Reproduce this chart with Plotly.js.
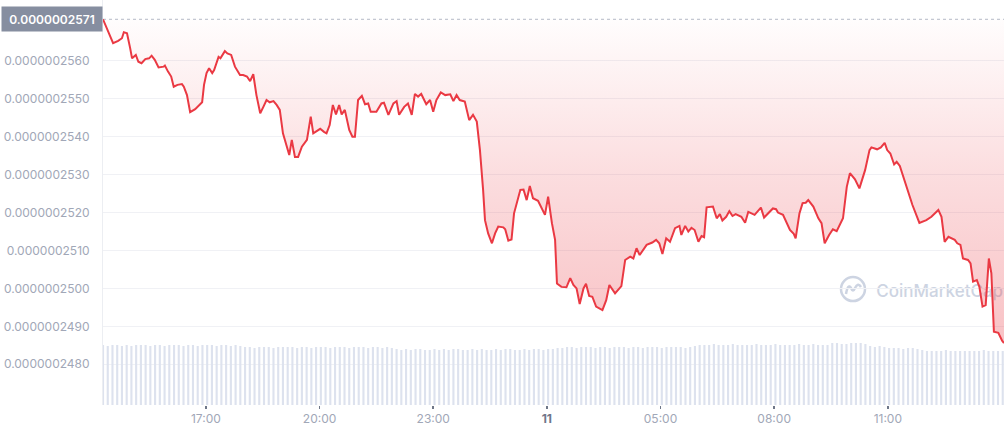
<!DOCTYPE html>
<html>
<head>
<meta charset="utf-8">
<script src="https://cdn.plot.ly/plotly-3.0.1.min.js"></script>
<style>html,body{margin:0;padding:0;background:#fff}#chart{width:1004px;height:431px}</style>
</head>
<body>
<div id="chart"></div>
<script>
// ---- data (price in units of 1e-10) ----
const START_UTC = Date.UTC(2022, 0, 10, 14, 17); // left edge of the chart
const END_MIN = 1427;                            // minutes shown
const PRICE_UNIT = 1e-10;
const openPrice = 2571;

// minutes after start
const priceMinutes = [0,8,16,24,30,33,38,43,46,52,56,61,67,73,77,82,88,96,98,103,108,112,118,125,128,133,138,146,153,157,160,164,168,173,176,183,186,193,197,203,209,217,222,228,233,238,243,249,254,259,264,270,275,280,285,290,295,299,304,309,315,323,329,333,344,350,354,359,364,369,374,378,383,390,395,399,404,410,415,420,424,433,441,445,452,460,465,469,477,483,489,494,499,504,512,518,523,528,535,542,550,555,560,565,573,580,586,592,597,602,605,610,616,621,626,634,637,642,647,651,658,661,666,671,676,681,689,695,700,705,711,716,719,726,734,740,745,750,755,761,765,770,775,781,791,797,802,811,821,827,835,840,845,850,861,870,876,881,886,892,898,906,913,916,922,927,932,937,943,948,952,956,966,972,977,981,987,992,997,1002,1011,1017,1022,1032,1042,1047,1054,1061,1066,1069,1077,1088,1094,1097,1103,1108,1113,1117,1125,1133,1138,1143,1150,1156,1162,1172,1178,1183,1191,1198,1207,1214,1217,1226,1232,1238,1242,1247,1253,1257,1262,1273,1282,1293,1299,1304,1312,1323,1328,1333,1339,1349,1353,1358,1362,1370,1374,1378,1384,1388,1393,1398,1403,1407,1411,1418,1424,1427];

const priceValues = [2571,2567.7,2564.7,2565.3,2566.0,2567.6,2567.3,2563.4,2560.7,2561.6,2559.8,2559.4,2560.5,2560.7,2561.4,2560.3,2558.3,2558.5,2558.8,2557.2,2555.9,2553.2,2553.7,2553.9,2553.2,2551.0,2546.5,2547.3,2548.4,2549.1,2553.7,2556.8,2558.1,2556.8,2557.6,2561.1,2560.7,2562.6,2562.0,2561.6,2558.5,2556.3,2556.3,2555.9,2554.7,2556.5,2551.0,2546.2,2547.9,2549.7,2549.1,2549.4,2548.4,2547.1,2540.9,2537.8,2535.2,2539.2,2534.7,2534.7,2537.4,2539.2,2545.3,2540.9,2542.1,2541.3,2540.9,2543.1,2548.4,2545.9,2548.4,2545.9,2547.1,2541.8,2540.0,2540.0,2549.7,2550.8,2548.6,2548.8,2546.6,2546.6,2548.8,2549.0,2545.8,2548.8,2549.4,2545.8,2547.9,2548.8,2545.8,2551.3,2550.6,2551.3,2548.6,2549.7,2546.6,2549.7,2551.7,2551.0,2551.2,2549.4,2551.0,2549.7,2549.3,2544.4,2545.8,2544.0,2536.5,2526.0,2518.0,2514.5,2511.9,2514.5,2516.3,2516.1,2515.6,2512.6,2512.9,2519.8,2523.8,2526.0,2526.1,2523.3,2527.0,2523.8,2523.1,2521.1,2519.4,2524.2,2517.2,2512.8,2501.3,2500.4,2500.3,2502.7,2500.9,2500.0,2495.9,2500.0,2501.2,2498.0,2497.8,2495.2,2494.3,2496.9,2500.9,2498.7,2500.6,2507.5,2508.4,2507.9,2510.6,2508.8,2511.5,2512.1,2512.8,2511.9,2509.1,2513.2,2512.3,2515.9,2516.5,2514.1,2516.5,2515.0,2516.0,2515.4,2512.3,2513.8,2513.5,2521.4,2521.6,2518.5,2519.6,2517.9,2518.9,2520.4,2519.1,2519.6,2518.9,2517.3,2520.2,2519.4,2521.3,2518.7,2520.0,2521.1,2520.9,2520.0,2519.4,2515.4,2514.4,2513.2,2519.8,2522.5,2522.6,2523.3,2521.6,2518.5,2517.2,2511.9,2514.1,2515.6,2515.1,2518.5,2526.8,2530.4,2528.8,2526.4,2531.2,2536.5,2537.2,2536.7,2537.2,2538.4,2536.5,2535.6,2532.7,2533.4,2532.3,2526.8,2522.0,2517.3,2517.6,2518.0,2518.9,2520.7,2518.9,2512.3,2513.6,2512.8,2511.9,2511.5,2507.9,2507.5,2506.6,2501.8,2502.2,2500.4,2495.2,2495.6,2507.9,2504.0,2488.6,2488.3,2486.2,2485.6];

// volume bars: one bar every 7.5 minutes, relative heights
const VOLUME_STEP_MIN = 7.5;
const volumeValues = [
60,59,60,60,59,60,59,60,60,60,59,60,60,59,60,60,60,59,60,60,59,60,60,60,59,60,60,59,60,59,
58,58,57,58,58,58,57,58,58,58,58,57,58,58,57,58,58,58,57,58,58,58,57,58,58,58,57,58,58,57,58,57,
56,55,56,55,56,56,55,55,56,55,56,55,56,56,55,55,56,55,56,55,55,56,55,56,56,55,55,56,55,56,56,55,56,56,57,
57,58,58,57,58,58,58,57,58,58,57,58,58,58,57,58,58,57,58,58,58,57,58,58,58,58,57,58,59,60,
60,60,61,60,60,60,61,60,60,60,60,61,60,60,60,61,60,60,60,60,61,60,60,61,60,60,60,62,62,61,61,
62,62,62,61,
59,58,59,58,
57,57,57,56,57,57,56,
55,54,54,54,54,55,54,54,54,54,54,54,54,55,54,54,54,54,55];

// axis ticks
const yTickVals = [2480,2490,2500,2510,2520,2530,2540,2550,2560];
const yTickText = ["0.0000002480","0.0000002490","0.0000002500","0.0000002510","0.0000002520","0.0000002530","0.0000002540","0.0000002550","0.0000002560"];
const xTickTimes = ["2022-01-10 17:00","2022-01-10 20:00","2022-01-10 23:00","2022-01-11 02:00","2022-01-11 05:00","2022-01-11 08:00","2022-01-11 11:00"];
const xTickText = ["17:00","20:00","23:00","<b style='color:#6f7788'>11</b>","05:00","08:00","11:00"];
const openLabel = "0.0000002571";

// ---- helpers ----
function t(min){ return new Date(START_UTC + min*60000).toISOString().slice(0,19).replace('T',' '); }
const px = priceMinutes.map(t);
const py = priceValues.map(v => v*PRICE_UNIT);
const vx = volumeValues.map((_, i) => t(i*VOLUME_STEP_MIN));
const xStart = t(0), xEnd = t(END_MIN);

const RED = '#ea3943';
const traces = [
  { type:'bar', x: vx, y: volumeValues, yaxis:'y2', marker:{color:'#dde2ee'}, hoverinfo:'skip' },
  { type:'scatter', mode:'lines', x:[xStart, xEnd], y:[openPrice*PRICE_UNIT, openPrice*PRICE_UNIT],
    line:{color:'#b4b9c6', width:1, dash:'dot'}, hoverinfo:'skip' },
  { type:'scatter', mode:'lines', x: px, y: py, fill:'tonexty',
    fillgradient:{type:'vertical', start:2469*PRICE_UNIT, stop:openPrice*PRICE_UNIT,
      colorscale:[[0,'rgba(234,57,67,0.36)'],[0.6,'rgba(234,57,67,0.17)'],[1,'rgba(234,57,67,0.01)']]},
    line:{color:RED, width:2}, hoverinfo:'skip' }
];

const font = {family:'Inter, "Noto Sans", sans-serif', size:12, color:'#a1a7b7'};
const layout = {
  width:1004, height:431,
  margin:{l:103, r:0, t:0, b:26, pad:0},
  paper_bgcolor:'#fff', plot_bgcolor:'#fff',
  showlegend:false, hovermode:false, bargap:0.55,
  font: font,
  xaxis:{type:'date', range:[xStart, xEnd], showgrid:false, zeroline:false, showline:false,
    tickvals:xTickTimes, ticktext:xTickText, ticks:'outside', ticklen:3, tickwidth:1.5, tickcolor:'#6f7788',
    tickfont:font},
  yaxis:{range:[2469.24*PRICE_UNIT, 2576.09*PRICE_UNIT], tickvals:yTickVals.map(v=>v*PRICE_UNIT), ticktext:yTickText,
    showgrid:true, gridcolor:'#f0f1f5', gridwidth:1, zeroline:false,
    showline:true, linecolor:'#eceef2', linewidth:1, ticks:'', ticklabelstandoff:10, tickfont:font},
  yaxis2:{overlaying:'y', range:[0,405], visible:false, fixedrange:true},
  annotations:[
    { xref:'paper', yref:'y', x:0, y:openPrice*PRICE_UNIT, xanchor:'right', yanchor:'middle',
      text:openLabel, showarrow:false, bgcolor:'#868ea0', width:92, height:16, borderpad:4,
      font:{family:'Inter, "Noto Sans", sans-serif', size:12, color:'#ffffff', weight:600} }
  ],
  shapes:[
    // watermark text
    { type:'rect', layer:'below', xref:'paper', yref:'paper', x0:0.855, x1:0.995, y0:0.26, y1:0.31,
      line:{width:0}, fillcolor:'rgba(0,0,0,0)',
      label:{text:'CoinMarketCap', textposition:'middle left', padding:0,
        font:{family:'Inter, "Noto Sans", sans-serif', size:17, color:'#cdd4e2', weight:500}} },
    // watermark logo ring
    { type:'circle', layer:'below', xref:'paper', yref:'paper', xsizemode:'pixel', ysizemode:'pixel',
      xanchor:0.8324, yanchor:0.2864, x0:-12, x1:12, y0:-12, y1:12, line:{color:'#cdd4e2', width:2.5} },
    { type:'path', layer:'below', xref:'paper', yref:'paper', xsizemode:'pixel', ysizemode:'pixel',
      xanchor:0.8324, yanchor:0.2864,
      path:'M -7 -5 Q -5 6 -2 1 Q 0 -4 2 1 Q 5 7 8 2',
      line:{color:'#cdd4e2', width:2.5} }
  ]
};

Plotly.newPlot('chart', traces, layout, {staticPlot:true, displayModeBar:false});
</script>
</body>
</html>
